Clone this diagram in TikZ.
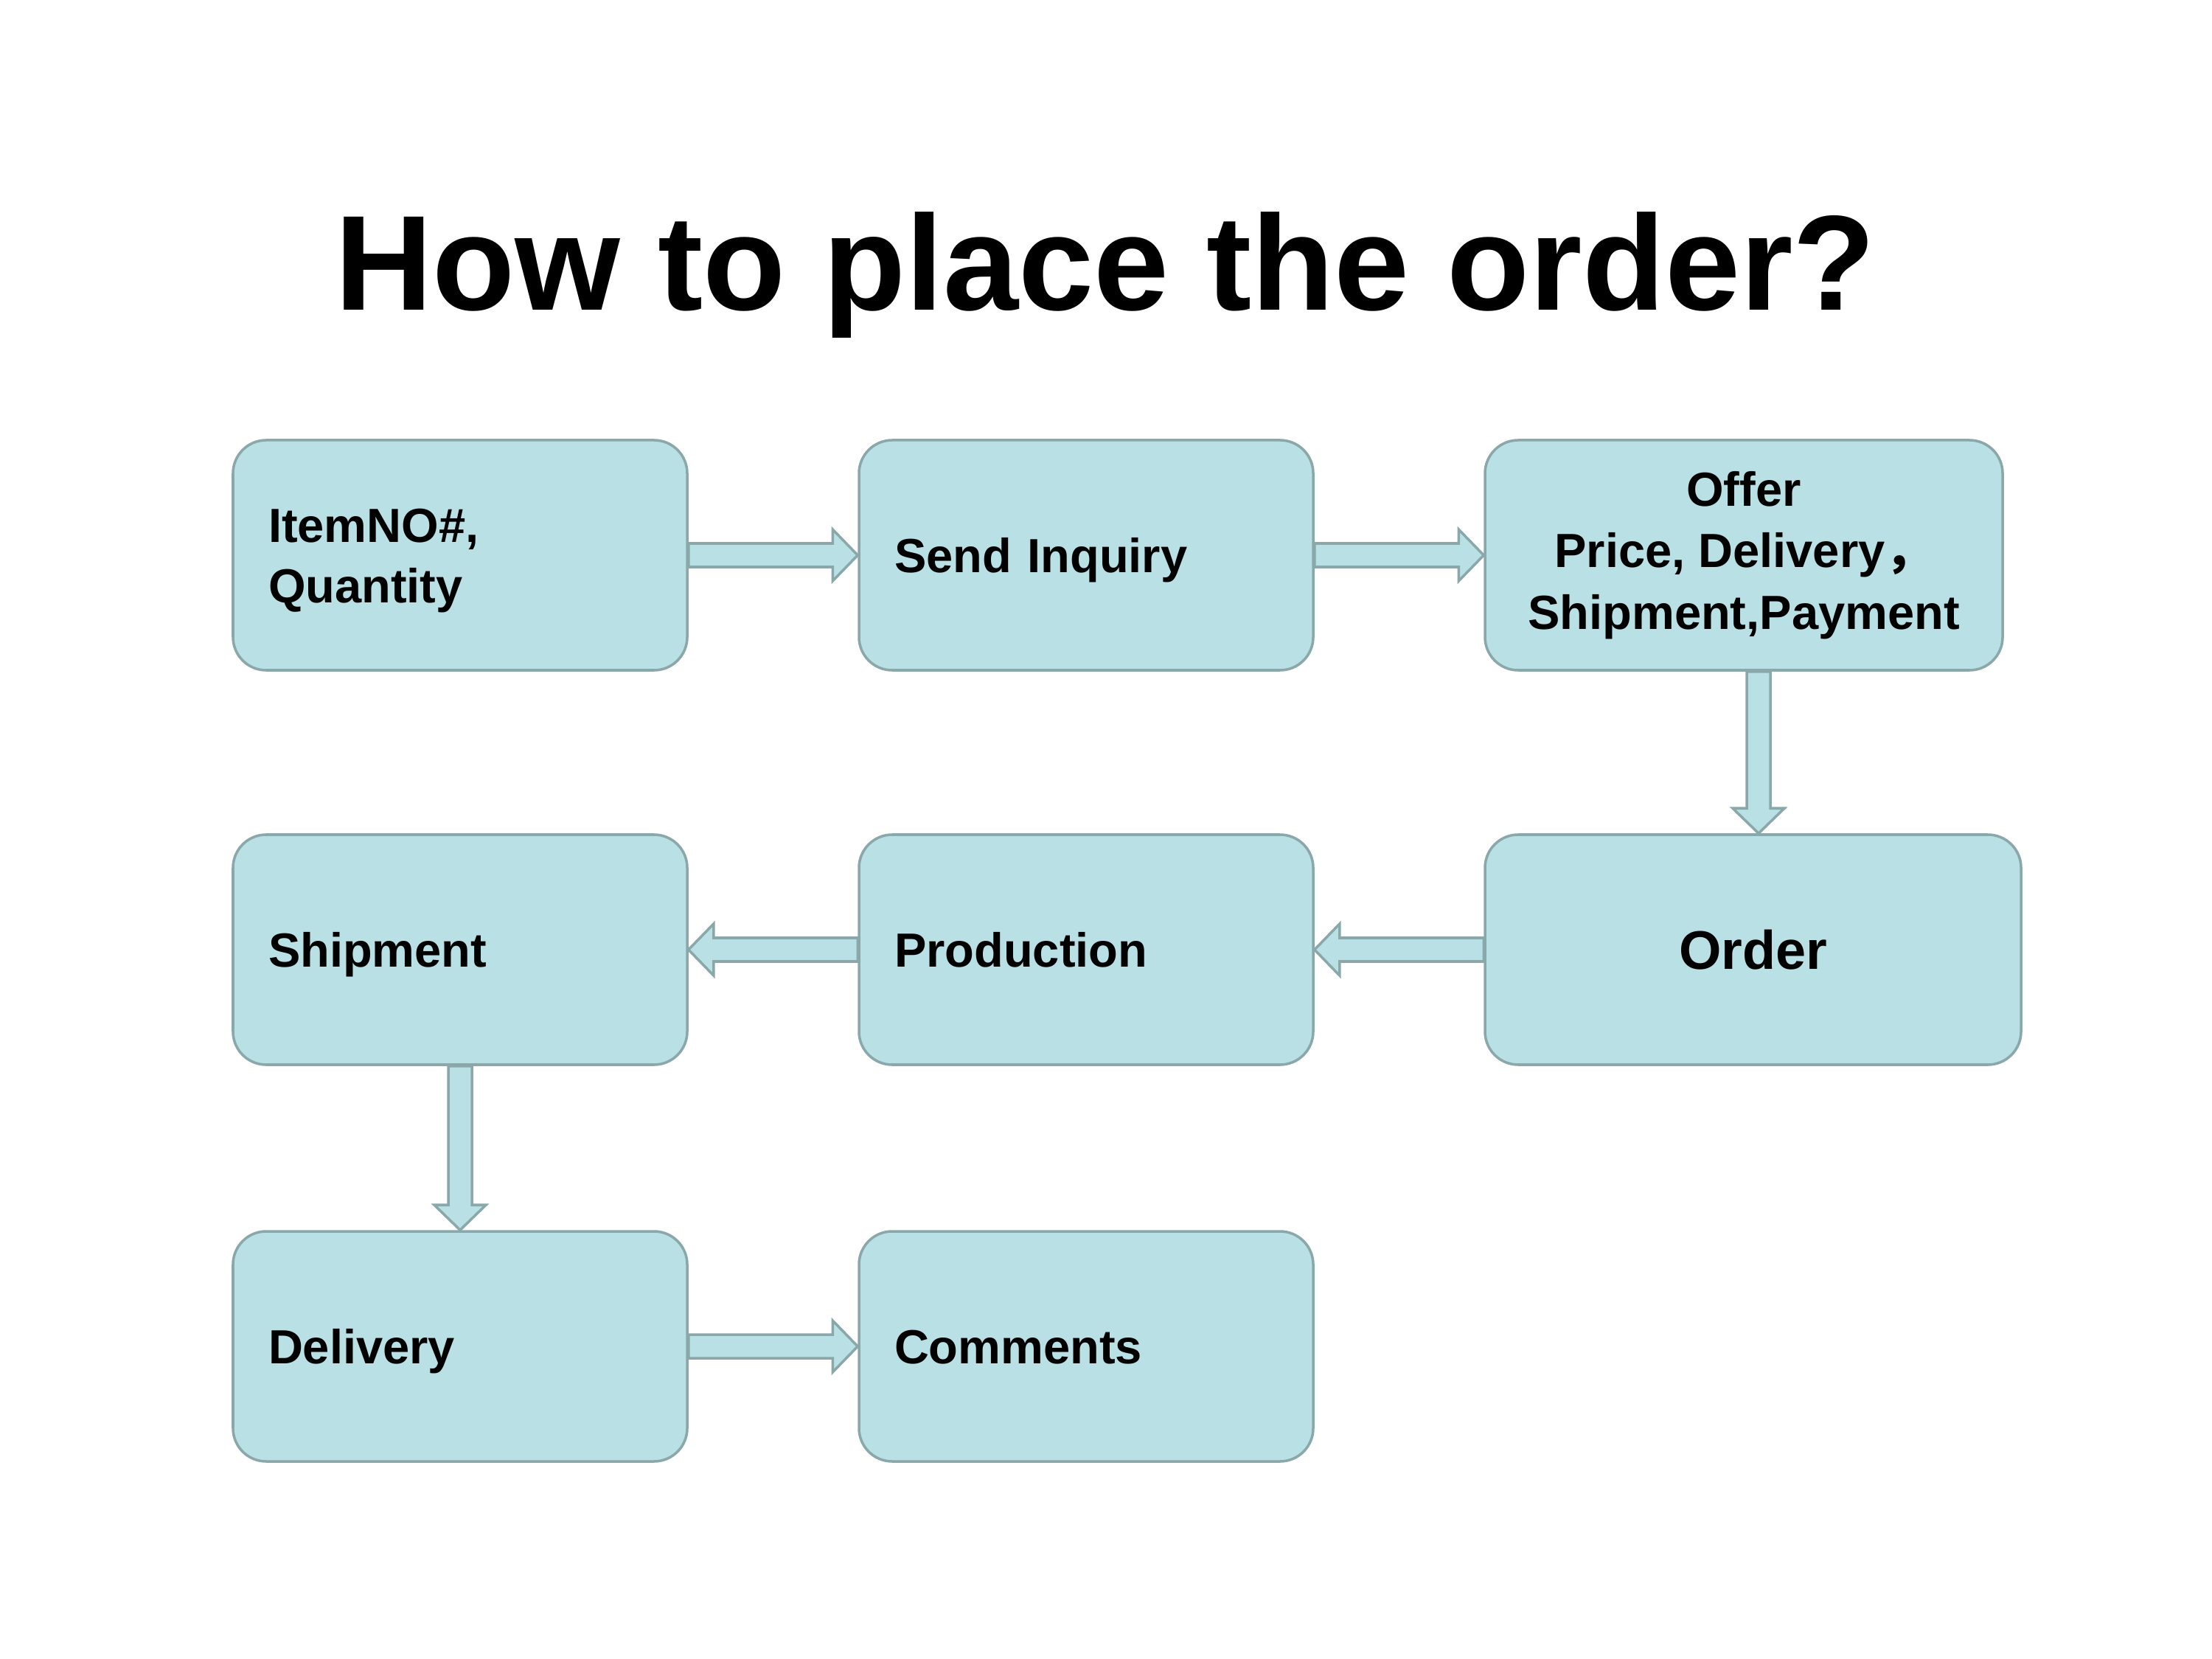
\documentclass[tikz,border=0pt]{standalone}
\usepackage{fontspec}
\setmainfont{Liberation Sans}
\newfontfamily\cjk{Noto Sans CJK SC}
\usetikzlibrary{positioning,calc}

\definecolor{boxfill}{RGB}{185,224,228}
\definecolor{boxline}{RGB}{138,168,170}

% block arrow from #1 (open end) to #2 (tip)
\newcommand{\blockarrow}[2]{%
  \coordinate (hb) at ($(#2)!0.34cm!(#1)$);
  \draw[flow] ($(#1)!0.16cm!90:(#2)$) -- ($(hb)!0.16cm!90:(#2)$)
     -- ($(hb)!0.35cm!90:(#2)$) -- (#2) -- ($(hb)!0.35cm!-90:(#2)$)
     -- ($(hb)!0.16cm!-90:(#2)$) -- ($(#1)!0.16cm!-90:(#2)$) -- cycle;}

\begin{document}
\begin{tikzpicture}[
  box/.style={draw=boxline, fill=boxfill, line width=1pt, rounded corners=0.45cm,
              minimum width=6.16cm, minimum height=3.12cm, inner sep=0pt,
              font=\bfseries\fontsize{18.5}{23.3}\selectfont},
  leftbox/.style={box, align=left, text width=5.2cm, inner xsep=0.48cm},
  onebox/.style={leftbox, text height=0.6cm, text depth=0.134cm},
  flow/.style={draw=boxline, fill=boxfill, line width=1pt, line join=miter},
]
\path[fill=white, use as bounding box] (0,0) rectangle (30,-22.5);

% ---- title -----------------------------------------------------------
\node[anchor=base, font=\bfseries\fontsize{52.2}{60}\selectfont] (title) at (14.99,-4.21) {How to place the order?};

% ---- first row -------------------------------------------------------
\node[leftbox, text height=0.602cm, text depth=0.947cm] (item) at (6.24,-7.53) {ItemNO\#,\\Quantity};
\node[onebox] (inquiry) at (14.73,-7.53) {Send Inquiry};
\node[box, minimum width=7.02cm, align=center,
      font=\bfseries\fontsize{18.5}{23.8}\selectfont] (offer) at (23.65,-7.53)
      {Offer\\Price, Delivery{\cjk ，}\\Shipment,Payment};

% ---- second row ------------------------------------------------------
\node[box, minimum width=7.27cm, font=\bfseries\fontsize{21}{24}\selectfont,
      text height=0.68cm, text depth=0.15cm] (order) at (23.775,-12.88) {Order};
\node[onebox] (production) at (14.73,-12.88) {Production};
\node[onebox] (shipment)   at (6.24,-12.88)  {Shipment};

% ---- third row -------------------------------------------------------
\node[onebox] (delivery) at (6.24,-18.26)  {Delivery};
\node[onebox] (comments) at (14.73,-18.26) {Comments};

% ---- block arrows ----------------------------------------------------
\blockarrow{item.east}{inquiry.west}
\blockarrow{inquiry.east}{offer.west}
\coordinate (oa) at ($(offer.south)+(0.2,0)$);
\coordinate (ob) at (oa |- order.north);
\blockarrow{oa}{ob}
\blockarrow{order.west}{production.east}
\blockarrow{production.west}{shipment.east}
\blockarrow{shipment.south}{delivery.north}
\blockarrow{delivery.east}{comments.west}

\end{tikzpicture}
\end{document}
